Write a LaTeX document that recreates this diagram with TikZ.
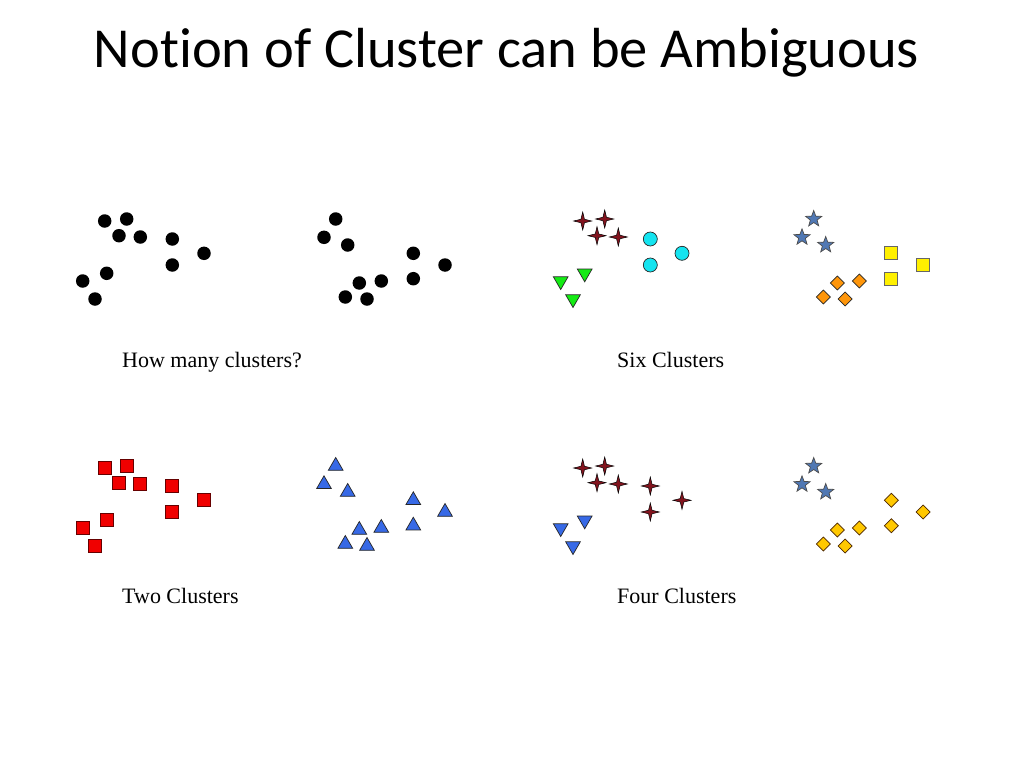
\documentclass[tikz,border=0pt]{standalone}
\usepackage{fontspec}
\setmainfont{Liberation Serif}
\newfontfamily\titlefont[Ligatures=NoCommon]{Carlito}
\usetikzlibrary{shapes.geometric}
\definecolor{cyanf}{RGB}{20,228,240}
\definecolor{greenf}{RGB}{20,235,20}
\definecolor{starred}{RGB}{130,20,30}
\definecolor{bluestar}{RGB}{80,120,180}
\definecolor{yellowf}{RGB}{255,240,0}
\definecolor{orangef}{RGB}{255,150,10}
\definecolor{goldf}{RGB}{255,200,0}
\definecolor{bluetri}{RGB}{55,105,230}
\definecolor{redf}{RGB}{240,0,0}
\tikzset{
  pt/.style={inner sep=0pt, outer sep=0pt, line width=0.7pt, draw=black!85},
  dot/.style={pt, circle, fill=black, draw=none, minimum size=13.5pt},
  cyanc/.style={pt, circle, fill=cyanf, minimum size=14pt},
  rsq/.style={pt, rectangle, fill=redf, draw=black!60!red, minimum size=13pt},
  ysq/.style={pt, rectangle, fill=yellowf, draw=black!60, minimum size=13pt},
  utri/.style={pt, regular polygon, regular polygon sides=3, fill=bluetri, minimum size=17pt},
  dtrig/.style={pt, regular polygon, regular polygon sides=3, shape border rotate=180, fill=greenf, minimum size=17pt},
  dtrib/.style={pt, regular polygon, regular polygon sides=3, shape border rotate=180, fill=bluetri, minimum size=17pt},
  odia/.style={pt, diamond, aspect=1, fill=orangef, minimum size=14pt},
  gdia/.style={pt, diamond, aspect=1, fill=goldf, draw=black!70!orange, minimum size=14pt},
  fstar/.style={pt, star, star points=4, star point ratio=3.6, fill=starred, draw=black, line width=0.5pt, minimum size=18pt},
  vstar/.style={pt, star, star points=5, star point ratio=2.4, fill=bluestar, draw=black!70, minimum size=17pt},
  lbl/.style={anchor=base west, inner sep=0pt, font=\fontsize{22}{26}\selectfont},
}
\begin{document}
\begin{tikzpicture}[x=1pt,y=-1pt]
\useasboundingbox[fill=white] (0,0) rectangle (1024,768);
\node[anchor=base, inner sep=0pt, font=\titlefont\fontsize{56.5}{62}\selectfont] (title) at (506.5,67) {Notion of Cluster can be Ambiguous};
% ---- top-left: black dots
\foreach \x/\y [count=\i] in {104.7/221,126.7/219,119/235.7,140.3/237,172.3/239,204/253.3,172.3/265,106.7/273.3,82.7/281,95/299}
  \node[dot] (ta\i) at (\x,\y) {};
\foreach \x/\y [count=\i] in {335.7/219,324/237.3,347.7/245,413.3/253.3,445/265,413.3/278.7,359.3/283,381.3/281,345.3/297,367/299}
  \node[dot] (tb\i) at (\x,\y) {};
\node[lbl] (l1) at (122,367) {How many clusters?};
% ---- top-right: six clusters
\foreach \x/\y [count=\i] in {582.7/221,604.7/219,597/235.7,618.3/237}
  \node[fstar] (sa\i) at (\x,\y) {};
\foreach \x/\y [count=\i] in {650.3/239,682/253.3,650.3/265}
  \node[cyanc] (sc\i) at (\x,\y) {};
\foreach \x/\y [count=\i] in {584.7/273.3,560.7/281,573/299}
  \node[dtrig] (st\i) at (\x,\y) {};
\foreach \x/\y [count=\i] in {813.7/219,802/237.3,825.7/245}
  \node[vstar] (sv\i) at (\x,\y) {};
\foreach \x/\y [count=\i] in {891.3/253.3,923/265,891.3/278.7}
  \node[ysq] (sq\i) at (\x,\y) {};
\foreach \x/\y [count=\i] in {837.3/283,859.3/281,823.3/297,845/299}
  \node[odia] (sd\i) at (\x,\y) {};
\node[lbl] (l2) at (617,367) {Six Clusters};
% ---- bottom-left: two clusters
\foreach \x/\y [count=\i] in {104.7/468,126.7/466,119/482.7,140.3/484,172.3/486,204/500.3,172.3/512,106.7/520.3,82.7/528,95/546}
  \node[rsq] (wa\i) at (\x,\y) {};
\foreach \x/\y [count=\i] in {335.7/466,324/484.3,347.7/492,413.3/500.3,445/512,413.3/525.7,359.3/530,381.3/528,345.3/544,367/546}
  \node[utri] (wb\i) at (\x,\y) {};
\node[lbl] (l3) at (122,603) {Two Clusters};
% ---- bottom-right: four clusters
\foreach \x/\y [count=\i] in {582.7/468,604.7/466,597/482.7,618.3/484,650.3/486,682/500.3,650.3/512}
  \node[fstar] (fa\i) at (\x,\y) {};
\foreach \x/\y [count=\i] in {584.7/520.3,560.7/528,573/546}
  \node[dtrib] (ft\i) at (\x,\y) {};
\foreach \x/\y [count=\i] in {813.7/466,802/484.3,825.7/492}
  \node[vstar] (fv\i) at (\x,\y) {};
\foreach \x/\y [count=\i] in {891.3/500.3,923/512,891.3/525.7,837.3/530,859.3/528,823.3/544,845/546}
  \node[gdia] (fd\i) at (\x,\y) {};
\node[lbl] (l4) at (617,603) {Four Clusters};
\end{tikzpicture}
\end{document}
